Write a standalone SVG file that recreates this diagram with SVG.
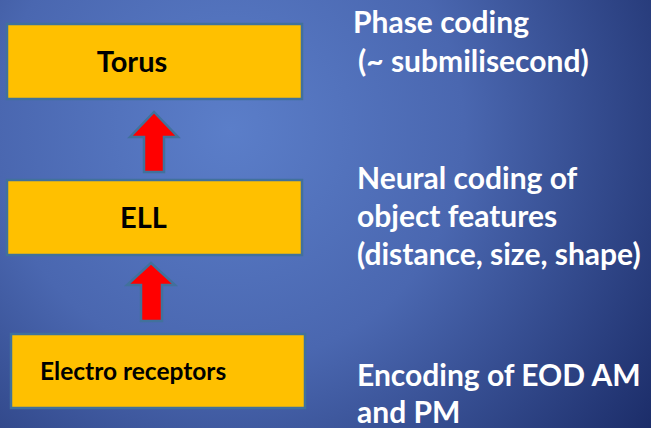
<svg xmlns="http://www.w3.org/2000/svg" width="651" height="428" viewBox="0 0 651 428">
<defs>
<radialGradient id="bg" gradientUnits="userSpaceOnUse" cx="230" cy="130" r="520">
<stop offset="0" stop-color="#5b7ec9"/>
<stop offset="0.45" stop-color="#4a67b0"/>
<stop offset="1" stop-color="#1b2c68"/>
</radialGradient>
<style>
.box{fill:#ffc000;stroke:#41719c;stroke-width:2.5}
.arrow{fill:#ff0000;stroke:#41719c;stroke-width:2.5;stroke-linejoin:miter}
.lbl{font-family:Lato,"Liberation Sans",sans-serif;font-weight:bold;fill:#000}
.note{font-family:Lato,"Liberation Sans",sans-serif;font-weight:bold;fill:#fff;font-size:30px}
</style>
</defs>
<rect width="651" height="428" fill="url(#bg)"/>
<g id="torus">
<rect class="box" x="7" y="24" width="295" height="75"/>
<text class="lbl" x="132" y="72" font-size="29" text-anchor="middle">Torus</text>
</g>
<g id="ell">
<rect class="box" x="7" y="180" width="295" height="75"/>
<text class="lbl" x="143.5" y="228" font-size="29" text-anchor="middle">ELL</text>
</g>
<g id="receptors">
<rect class="box" x="11" y="334" width="294" height="74"/>
<text class="lbl" x="40" y="380" font-size="24.5">Electro receptors</text>
</g>
<g id="connectors">
<polygon class="arrow" points="154,112 178,137 164,137 164,172 144,172 144,137 130,137"/>
<polygon class="arrow" points="151,263 175,285 162,285 162,321 141,321 141,285 127,285"/>
</g>
<g id="notes">
<text class="note" x="353" y="33">Phase coding</text>
<text class="note" x="358" y="72">(~ submilisecond)</text>
<text class="note" x="357" y="189">Neural coding of</text>
<text class="note" x="357" y="227">object features</text>
<text class="note" x="357" y="265">(distance, size, shape)</text>
<text class="note" x="357" y="386">Encoding of EOD AM</text>
<text class="note" x="357" y="423">and PM</text>
</g>
</svg>
